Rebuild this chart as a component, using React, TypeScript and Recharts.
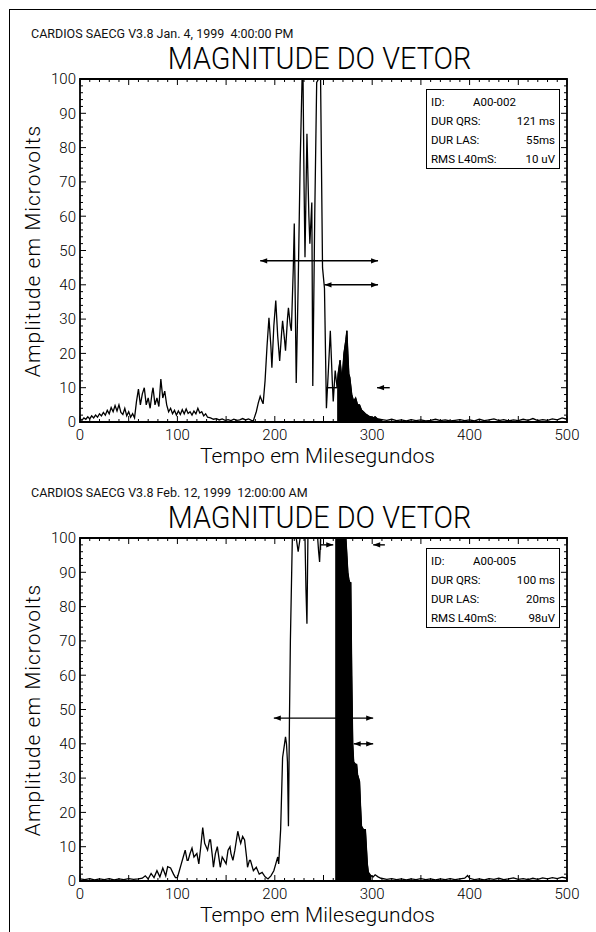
import { ComposedChart, Line, Area, XAxis, YAxis, ReferenceLine, ReferenceArea } from "recharts"

const FONT = "Roboto, 'Liberation Sans', sans-serif"

const X_LABELS = [0, 100, 200, 300, 400, 500]
const Y_LABELS = [0, 10, 20, 30, 40, 50, 60, 70, 80, 90, 100]
const X_MINOR = Array.from({ length: 51 }, (_, i) => i * 10)
const Y_MINOR = Array.from({ length: 51 }, (_, i) => i * 2)

// [ms, microvolts]
const P1_SIGNAL: [number, number][] = [
  [0, 1.0], [2, 0.5], [4, 1.2], [6, 0.8], [8, 1.5], [10, 0.9], [12, 1.8], [14, 1.2], [16, 2.0], [18, 1.4],
  [20, 2.4], [22, 1.8], [24, 2.8], [26, 2.0], [28, 3.4], [30, 2.4], [32, 4.2], [34, 3.0], [36, 4.8], [38, 3.2],
  [40, 5.0], [42, 2.8], [44, 2.2], [46, 4.0], [48, 1.8], [50, 3.0], [52, 1.4], [54, 2.4], [56, 1.2], [58, 6.0],
  [60, 9.6], [62, 5.0], [64, 8.2], [66, 10.0], [68, 5.0], [70, 7.0], [72, 4.0], [74, 8.5], [75, 10.0], [77, 5.0],
  [79, 7.0], [81, 4.5], [83, 12.5], [85, 7.0], [87, 9.0], [89, 5.0], [91, 3.0], [93, 4.0], [95, 2.4], [97, 3.4],
  [99, 2.0], [101, 3.2], [103, 2.2], [105, 3.6], [107, 2.4], [109, 3.8], [111, 2.5], [113, 3.0], [115, 2.0], [117, 3.2],
  [119, 2.4], [121, 4.0], [123, 2.6], [125, 3.0], [127, 1.8], [129, 2.4], [131, 1.4], [134, 1.2], [137, 0.8], [140, 1.0],
  [143, 0.6], [146, 0.9], [149, 0.5], [152, 0.7], [155, 0.4], [158, 0.8], [161, 0.5], [164, 0.6], [167, 1.0], [170, 0.6],
  [173, 0.9], [176, 0.5], [178, 0.4], [181, 3.0], [183, 5.5], [185, 7.5], [187, 6.0], [188, 5.3], [190, 12], [192, 22],
  [194, 30.4], [196, 22], [197, 15.8], [199, 28], [201, 35.4], [203, 25], [205, 17.8], [207, 26], [208, 29.5], [210, 24],
  [211, 20.8], [213, 30], [214, 33.3], [216, 28], [217, 26.6], [219, 45], [220, 57.9], [221, 35], [222, 11.4], [224, 40],
  [226, 75], [228, 100], [229, 100], [230, 70], [231, 48], [233, 84], [235, 60], [236, 52], [238, 64], [239, 10.5],
  [241, 60], [243, 99], [245, 100], [247, 100], [249, 45], [251, 39], [253, 4], [255, 15], [257, 26.6], [259, 12],
  [260, 6], [262, 15], [264, 10], [265, 14], [267, 18], [269, 12], [271, 20], [273, 24], [274, 26.6], [275, 20],
  [276, 14], [277, 13], [279, 8], [281, 6], [283, 7], [285, 5], [287, 5], [289, 3.5], [291, 3], [293, 2.4],
  [295, 2], [297, 1.6], [299, 1.5], [301, 1.2], [303, 1.5], [305, 1.0], [307, 0.8], [310, 0.7], [315, 0.5], [320, 0.8],
  [325, 0.4], [330, 0.6], [335, 0.3], [340, 0.7], [345, 0.4], [350, 0.6], [355, 0.3], [360, 0.5], [365, 0.8], [370, 0.4],
  [375, 0.6], [380, 0.3], [385, 0.5], [390, 0.7], [395, 0.4], [400, 0.6], [405, 0.3], [410, 0.8], [415, 0.4], [420, 0.6],
  [425, 0.9], [430, 0.4], [435, 0.7], [440, 0.3], [445, 0.6], [450, 0.4], [455, 0.8], [460, 0.5], [465, 1.0], [470, 0.4],
  [475, 0.7], [480, 0.5], [485, 0.9], [490, 0.6], [495, 1.2], [500, 0.8],
]
const P1_LAS = [263, 310]
const P1_INFO = [["ID:", "A00-002"], ["DUR QRS:", "121 ms"], ["DUR LAS:", "55ms"], ["RMS L40mS:", "10 uV"]]
const P1_ARROWS = [
  { y: 47, x1: 185, x2: 306, start: true, end: true },
  { y: 40, x1: 251, x2: 306, start: true, end: true },
  { y: 10, x1: 253, x2: 264 },
  { y: 10, x1: 305, x2: 318, start: true },
]

const P2_SIGNAL: [number, number][] = [
  [0, 0.6], [5, 0.4], [10, 0.7], [15, 0.3], [20, 0.6], [25, 0.4], [30, 0.7], [35, 0.3], [40, 0.6], [45, 0.4],
  [50, 0.7], [55, 0.5], [60, 0.6], [64, 0.8], [67, 1.5], [70, 0.6], [73, 2.2], [76, 1.0], [79, 3.0], [82, 1.2],
  [85, 3.8], [88, 1.5], [90, 4.2], [93, 3.8], [96, 2.0], [98, 1.0], [100, 1.0], [102, 3.0], [104, 5.0], [106, 7.0],
  [108, 9.0], [110, 6.0], [111, 6.0], [113, 8.0], [115, 9.6], [117, 7.0], [120, 8.0], [122, 5.0], [124, 10], [126, 15.6],
  [128, 11], [131, 9], [133, 12], [134, 12], [136, 7], [137, 4], [139, 8], [141, 10], [143, 6], [144, 4],
  [146, 7], [148, 6], [150, 5], [152, 9], [154, 10], [155, 8], [157, 6], [159, 9], [162, 14.5], [164, 12],
  [165, 11], [167, 13], [169, 12], [171, 7], [172, 4], [174, 6], [175, 6], [177, 4], [178, 3], [181, 4],
  [184, 2], [187, 2.5], [190, 1.2], [193, 0.6], [196, 1.5], [199, 3], [201, 5], [203, 7], [204, 5], [206, 15],
  [208, 36], [210, 40], [211, 42], [212, 40], [213, 34.7], [214, 16], [215, 46], [216, 70], [218, 100], [222, 100],
  [224, 96], [226, 100], [231, 100], [232, 85], [233, 75], [234, 100], [244, 100], [245, 96], [246, 93], [247, 100],
  [260, 100], [262, 100], [266, 100], [270, 100], [273, 100], [274, 95], [275, 90], [276, 88], [277, 87], [278, 87],
  [279, 60], [280, 40], [281, 34.7], [283, 34], [284, 34], [285, 31], [287, 29], [288, 22], [289, 16], [291, 15],
  [293, 15], [294, 10], [295, 5], [296, 2.6], [298, 1.8], [299, 1.5], [301, 1.2], [303, 1.8], [306, 1.2], [309, 0.8],
  [315, 0.5], [320, 0.7], [325, 0.4], [330, 0.6], [335, 0.3], [340, 0.6], [345, 0.4], [350, 0.7], [355, 0.4], [360, 0.6],
  [365, 0.3], [370, 0.6], [375, 0.4], [380, 0.7], [385, 0.4], [390, 0.6], [395, 0.8], [398, 1.6], [400, 0.8], [405, 0.4],
  [410, 0.6], [415, 0.3], [420, 0.7], [425, 0.5], [430, 0.8], [435, 0.4], [440, 0.6], [445, 0.9], [450, 0.5], [455, 0.7],
  [460, 0.4], [465, 0.8], [470, 0.5], [475, 0.9], [480, 0.6], [485, 1.0], [490, 0.7], [495, 1.1], [500, 0.8],
]
const P2_LAS = [261, 300]
const P2_INFO = [["ID:", "A00-005"], ["DUR QRS:", "100 ms"], ["DUR LAS:", "20ms"], ["RMS L40mS:", "98uV"]]
const P2_ARROWS = [
  { y: 47.5, x1: 199, x2: 301, start: true, end: true },
  { y: 40, x1: 281, x2: 301, start: true, end: true },
  { y: 98, x1: 247, x2: 260, end: true, bar: true },
  { y: 98, x1: 301, x2: 313, start: true },
]

// plot box size in px (chart 596x460, margins below)
const PLOT_W = 487
const PLOT_H = 343

type Arrow = { y: number; x1: number; x2: number; start?: boolean; end?: boolean; bar?: boolean }

const arrowShape = (a: Arrow) => (p: any) => {
  const x1 = Number(p.x1), y1 = Number(p.y1), x2 = Number(p.x2), y2 = Number(p.y2)
  const h = 7, w = 2.6
  return (
    <g>
      <line x1={x1} y1={y1} x2={x2} y2={y2} stroke="#000" strokeWidth={1.4} />
      {a.start && <polygon points={`${x1},${y1} ${x1 + h},${y1 - w} ${x1 + h},${y1 + w}`} fill="#000" />}
      {a.end && <polygon points={`${x2},${y2} ${x2 - h},${y2 - w} ${x2 - h},${y2 + w}`} fill="#000" />}
      {a.bar && <line x1={x1} y1={y1 - 5} x2={x1} y2={y1 + 5} stroke="#000" strokeWidth={1.2} />}
    </g>
  )
}

// inward tick marks on bottom+top (from the x axis) and left+right (from the y axis)
const bottomTick = (p: any) => {
  const v = p.payload.value
  const len = v % 50 === 0 ? 6 : 3
  const yt = p.y - PLOT_H
  return (
    <g>
      <line x1={p.x} y1={p.y} x2={p.x} y2={p.y - len} stroke="#000" strokeWidth={1} />
      <line x1={p.x} y1={yt} x2={p.x} y2={yt + len} stroke="#000" strokeWidth={1} />
      {X_LABELS.includes(v) && (
        <text x={p.x} y={p.y + 7} dy="0.71em" textAnchor="middle" fontSize={15} fontWeight={300} fill="#000" fontFamily={FONT}>
          {v}
        </text>
      )}
    </g>
  )
}
const leftTick = (p: any) => {
  const v = p.payload.value
  const len = v % 10 === 0 ? 6 : 3
  const xr = p.x + PLOT_W
  return (
    <g>
      <line x1={p.x} y1={p.y} x2={p.x + len} y2={p.y} stroke="#000" strokeWidth={1} />
      <line x1={xr} y1={p.y} x2={xr - len} y2={p.y} stroke="#000" strokeWidth={1} />
      {Y_LABELS.includes(v) && (
        <text x={p.x - 4} y={p.y} dy="0.355em" textAnchor="end" fontSize={15} fontWeight={300} fill="#000" fontFamily={FONT}>
          {v}
        </text>
      )}
    </g>
  )
}

function Panel({
  top,
  header,
  signal,
  las,
  info,
  arrows,
}: {
  top: number
  header: string
  signal: [number, number][]
  las: number[]
  info: string[][]
  arrows: Arrow[]
}) {
  const data = signal.map(([t, v]) => ({ t, v, las: t >= las[0] && t <= las[1] ? v : null }))

  return (
    <div style={{ position: "absolute", left: 0, top, width: 596, height: 460, fontFamily: FONT }}>
      <div style={{ position: "absolute", left: 31, top: 26, fontSize: 12.5, whiteSpace: "pre", color: "#111" }}>
        {header}
      </div>
      <div
        style={{
          position: "absolute",
          left: 76,
          width: 487,
          top: 41,
          textAlign: "center",
          fontSize: 31,
          fontWeight: 300,
          lineHeight: "36px",
          transform: "scaleX(0.93)",
        }}
      >
        MAGNITUDE DO VETOR
      </div>
      <div
        style={{
          position: "absolute",
          left: 33 - 160,
          top: 251 - 13,
          width: 320,
          height: 26,
          lineHeight: "26px",
          textAlign: "center",
          fontSize: 21,
          fontWeight: 300,
          letterSpacing: 1,
          transform: "rotate(-90deg)",
        }}
      >
        Amplitude em Microvolts
      </div>
      <div style={{ position: "absolute", left: 0, top: 0 }}>
        <ComposedChart width={596} height={460} data={data} margin={{ top: 79, right: 29, bottom: 8, left: 40 }}>
          <XAxis
            dataKey="t"
            type="number"
            domain={[0, 500]}
            ticks={X_MINOR}
            interval={0}
            allowDataOverflow
            height={30}
            tickSize={0}
            tickMargin={0}
            tickLine={false}
            axisLine={false}
            tick={bottomTick}
          />
          <YAxis
            type="number"
            domain={[0, 100]}
            ticks={Y_MINOR}
            interval={0}
            allowDataOverflow
            width={40}
            tickSize={0}
            tickMargin={0}
            tickLine={false}
            axisLine={false}
            tick={leftTick}
          />
          <Area
            dataKey="las"
            type="linear"
            stroke="#000"
            strokeWidth={1}
            fill="#000"
            fillOpacity={1}
            baseValue={0}
            connectNulls={false}
            dot={false}
            activeDot={false}
            isAnimationActive={false}
          />
          <Line
            dataKey="v"
            type="linear"
            stroke="#000"
            strokeWidth={1.3}
            dot={false}
            activeDot={false}
            isAnimationActive={false}
          />
          {arrows.map((a, i) => (
            <ReferenceLine
              key={i}
              segment={[
                { x: a.x1, y: a.y },
                { x: a.x2, y: a.y },
              ]}
              shape={arrowShape(a)}
            />
          ))}
          <ReferenceArea x1={0} x2={500} y1={0} y2={100} fill="none" fillOpacity={0} stroke="#000" strokeWidth={1.8} />
        </ComposedChart>
      </div>
      <div
        style={{
          position: "absolute",
          left: 74,
          width: 487,
          top: 444,
          textAlign: "center",
          fontSize: 21,
          fontWeight: 300,
          letterSpacing: 0.1,
          lineHeight: "24px",
        }}
      >
        Tempo em Milesegundos
      </div>
      <div
        style={{
          position: "absolute",
          left: 426,
          top: 89,
          width: 134,
          height: 80,
          border: "1px solid #000",
          background: "#fff",
          fontSize: 11.5,
          boxSizing: "border-box",
          padding: "3px 4px 0 4px",
        }}
      >
        {info.map(([k, v], i) => (
          <div key={i} style={{ display: "flex", justifyContent: i === 0 ? "flex-start" : "space-between", height: 19, lineHeight: "19px" }}>
            <span style={{ width: i === 0 ? 42 : undefined }}>{k}</span>
            <span>{v}</span>
          </div>
        ))}
      </div>
    </div>
  )
}

export default function App() {
  return (
    <div style={{ position: "absolute", left: 0, top: 0, width: 596, height: 932, background: "#fff", overflow: "hidden" }}>
      <div style={{ position: "absolute", left: 9, top: 9, width: 600, height: 940, borderLeft: "1.5px solid #000", borderTop: "1.5px solid #000" }} />
      <Panel
        top={0}
        header="CARDIOS SAECG V3.8 Jan. 4, 1999  4:00:00 PM"
        signal={P1_SIGNAL}
        las={P1_LAS}
        info={P1_INFO}
        arrows={P1_ARROWS}
      />
      <Panel
        top={459}
        header="CARDIOS SAECG V3.8 Feb. 12, 1999  12:00:00 AM"
        signal={P2_SIGNAL}
        las={P2_LAS}
        info={P2_INFO}
        arrows={P2_ARROWS}
      />
    </div>
  )
}
